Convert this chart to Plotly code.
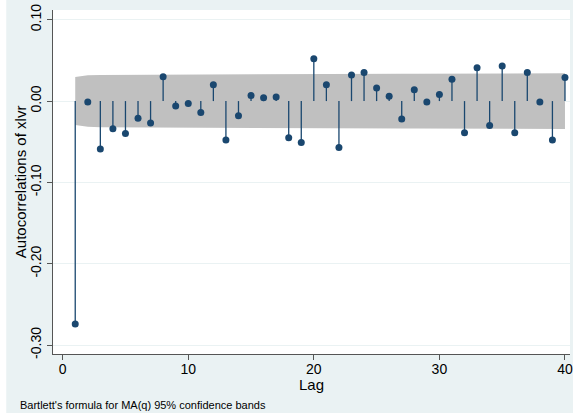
import plotly.graph_objects as go

# ACF values, lags 1..40
lags = list(range(1, 41))
acf = [-0.274, -0.001, -0.059, -0.034, -0.040, -0.021, -0.027, 0.030, -0.006, -0.003,
       -0.014, 0.020, -0.048, -0.018, 0.007, 0.004, 0.005, -0.045, -0.051, 0.052,
       0.020, -0.057, 0.032, 0.035, 0.016, 0.006, -0.022, 0.014, -0.001, 0.008,
       0.027, -0.039, 0.041, -0.030, 0.043, -0.039, 0.035, -0.001, -0.048, 0.029]
# half-width of the Bartlett 95% band at each lag
band = [0.0295, 0.0317, 0.0322, 0.0323, 0.0324, 0.0325, 0.0325, 0.0326, 0.0326, 0.0326,
        0.0327, 0.0327, 0.0328, 0.0328, 0.0329, 0.0329, 0.0330, 0.0330, 0.0331, 0.0332,
        0.0333, 0.0334, 0.0335, 0.0335, 0.0336, 0.0336, 0.0337, 0.0337, 0.0337, 0.0338,
        0.0338, 0.0339, 0.0339, 0.0340, 0.0340, 0.0341, 0.0341, 0.0342, 0.0342, 0.0342]
y_ticks = [0.10, 0.00, -0.10, -0.20, -0.30]
y_tick_text = ["0.10", "0.00", "-0.10", "-0.20", "-0.30"]
x_ticks = [0, 10, 20, 30, 40]

navy = "#1A476F"
outer = "#EAF2F3"
font = "Liberation Sans, Arial, sans-serif"

fig = go.Figure()

# confidence band
fig.add_trace(go.Scatter(x=lags, y=[-b for b in band], mode="lines",
                         line=dict(width=0, color="#C0C0C0"), hoverinfo="skip",
                         showlegend=False))
fig.add_trace(go.Scatter(x=lags, y=band, mode="lines", fill="tonexty",
                         fillcolor="#C0C0C0", line=dict(width=0, color="#C0C0C0"),
                         hoverinfo="skip", showlegend=False))

# stems
sx, sy = [], []
for l, v in zip(lags, acf):
    sx += [l, l, None]
    sy += [0, v, None]
fig.add_trace(go.Scatter(x=sx, y=sy, mode="lines", line=dict(width=1.3, color=navy),
                         hoverinfo="skip", showlegend=False))

# points
fig.add_trace(go.Scatter(x=lags, y=acf, mode="markers",
                         marker=dict(size=7, color=navy), showlegend=False))

fig.update_layout(
    width=573, height=418,
    margin=dict(l=53, r=0, t=10, b=64),
    paper_bgcolor=outer,
    plot_bgcolor="white",
    font=dict(family=font, size=14, color="black"),
    xaxis=dict(range=[-0.77, 40.40], tickvals=x_ticks, showgrid=False, zeroline=False,
               showline=True, linecolor="#555555", linewidth=1,
               ticks="outside", ticklen=5, tickcolor="#555555",
               tickfont=dict(size=14), ticklabelstandoff=-3,
               ticklabeloverflow="allow"),
    yaxis=dict(range=[-0.311, 0.112], tickvals=y_ticks, ticktext=y_tick_text,
               tickangle=-90, showgrid=True, gridcolor=outer, gridwidth=1,
               zeroline=False, showline=True, linecolor="#555555", linewidth=1,
               ticks="outside", ticklen=5, tickcolor="#555555",
               tickfont=dict(size=14)),
    shapes=[
        # white strips framing the graph region
        dict(type="rect", xref="paper", yref="paper", x0=-0.2, x1=(6 - 53) / 520,
             y0=-0.3, y1=1.1, fillcolor="white", line=dict(width=0), layer="below"),
        dict(type="rect", xref="paper", yref="paper", x0=-0.2, x1=1.1,
             y0=-0.3, y1=(354 - 413) / 344, fillcolor="white", line=dict(width=0),
             layer="below"),
    ],
    annotations=[
        dict(text="Autocorrelations of xlvr", xref="paper", yref="paper",
             x=(20 - 53) / 520, y=0.5, textangle=-90, showarrow=False,
             xanchor="center", yanchor="middle", font=dict(size=15)),
        dict(text="Lag", xref="paper", yref="paper", x=0.5, y=(354 - 384) / 344,
             showarrow=False, xanchor="center", yanchor="middle", font=dict(size=15)),
        dict(text="Bartlett's formula for MA(q) 95% confidence bands", xref="paper",
             yref="paper", x=(18 - 53) / 520, y=(354 - 405) / 344, showarrow=False,
             xanchor="left", yanchor="middle", font=dict(size=11)),
    ],
)

fig.write_html("out.html", config={"displayModeBar": False},
               post_script="document.body.style.margin='0';")
